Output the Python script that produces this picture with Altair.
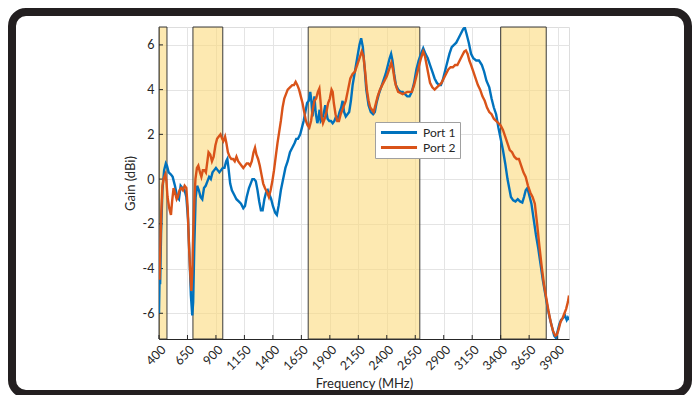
import altair as alt
import pandas as pd

# ---- data ----
port1_freq = [400, 405, 410, 418, 430, 445, 460, 470, 485, 505, 520, 540, 560, 575, 590, 605, 625, 640, 655, 668,
              680, 692, 700, 710, 722, 735, 750, 765, 780, 795, 810, 825, 840, 855, 870, 885, 900, 915, 930, 945,
              960, 975, 990, 1000, 1010, 1025, 1040, 1060, 1080, 1100, 1120, 1140, 1155, 1170, 1190, 1205, 1220,
              1235, 1250, 1265, 1280, 1295, 1310, 1325, 1340, 1355, 1370, 1385, 1400, 1420, 1435, 1450, 1470,
              1490, 1510, 1530, 1550, 1570, 1590, 1605, 1620, 1640, 1655, 1670, 1685, 1700, 1715, 1728, 1738,
              1748, 1758, 1765, 1775, 1790, 1800, 1810, 1820, 1832, 1845, 1860, 1870, 1880, 1895, 1910, 1925,
              1940, 1955, 1970, 1985, 2000, 2012, 2025, 2040, 2055, 2070, 2085, 2100, 2120, 2140, 2160, 2175,
              2190, 2205, 2220, 2240, 2260, 2280, 2295, 2310, 2330, 2350, 2370, 2390, 2410, 2425, 2438, 2450,
              2465, 2480, 2500, 2520, 2540, 2560, 2580, 2600, 2620, 2640, 2660, 2680, 2700, 2720, 2740, 2760,
              2780, 2800, 2820, 2840, 2860, 2875, 2890, 2910, 2930, 2950, 2970, 2990, 3010, 3030, 3050, 3070,
              3085, 3100, 3120, 3140, 3160, 3185, 3210, 3235, 3255, 3275, 3300, 3320, 3340, 3360, 3380, 3400,
              3420, 3440, 3460, 3475, 3490, 3510, 3530, 3550, 3570, 3590, 3605, 3620, 3635, 3650, 3670, 3690,
              3710, 3730, 3750, 3770, 3790, 3810, 3830, 3850, 3870, 3885, 3900, 3915, 3930, 3950, 3965, 3980,
              3990, 4000]
port1_gain = [-6.0, -4.5, -4.7, -2.5, -0.5, 0.4, 0.7, 0.6, 0.3, 0.2, 0.1, -0.3, -0.8, -0.9, -0.3, -0.4, -0.5, -0.8,
              -1.8, -3.5, -5.2, -6.1, -5.5, -3.0, -0.8, -0.3, -0.5, -0.8, -0.9, -0.4, -0.3, -0.1, 0.1, 0.0, 0.3,
              0.4, 0.5, 0.4, 0.3, 0.4, 0.5, 0.5, 0.8, 0.9, 0.5, -0.2, -0.5, -0.7, -0.9, -1.0, -1.1, -1.3, -1.2,
              -0.8, -0.4, -0.2, 0.0, 0.0, -0.1, -0.5, -1.0, -1.4, -1.4, -0.9, -0.6, -0.5, -0.7, -0.9, -1.2, -1.5,
              -1.6, -1.2, -0.5, 0.0, 0.5, 0.8, 1.2, 1.4, 1.6, 1.8, 1.8, 2.0, 2.3, 2.6, 3.0, 3.4, 3.5, 3.9, 3.5,
              2.8, 3.4, 3.7, 3.0, 2.5, 2.7, 3.1, 2.6, 2.7, 2.9, 3.3, 3.0, 2.7, 2.6, 2.6, 2.5, 2.6, 2.8, 2.7, 3.0,
              3.2, 3.5, 3.0, 2.8, 2.9, 3.0, 3.5, 4.2, 4.8, 5.4, 6.0, 6.3, 5.9, 5.0, 4.0, 3.3, 3.0, 2.9, 3.0, 3.4,
              3.8, 4.1, 4.4, 4.7, 5.1, 5.4, 5.6, 5.3, 4.7, 4.2, 4.0, 3.9, 3.9, 3.8, 3.7, 3.7, 3.9, 4.3, 4.9, 5.3,
              5.6, 5.85, 5.6, 5.4, 5.1, 4.8, 4.5, 4.3, 4.2, 4.2, 4.4, 4.8, 5.2, 5.6, 5.9, 6.0, 6.1, 6.3, 6.5, 6.7,
              6.78, 6.5, 6.1, 5.6, 5.4, 5.3, 5.3, 5.1, 4.8, 4.4, 4.1, 3.6, 3.2, 2.9, 2.3, 1.8, 1.3, 0.7, 0.0,
              -0.4, -0.8, -0.95, -1.0, -0.9, -1.0, -1.05, -0.8, -0.5, -0.4, -0.7, -1.1, -1.8, -2.5, -3.1, -3.8,
              -4.5, -5.1, -5.7, -6.2, -6.6, -7.0, -7.1, -6.8, -6.5, -6.3, -6.2, -6.1, -6.3, -6.2, -6.3]

port2_freq = [400, 405, 412, 420, 430, 440, 455, 465, 475, 490, 505, 515, 528, 540, 555, 565, 580, 595, 610, 625,
              640, 652, 662, 672, 684, 692, 700, 710, 720, 733, 745, 760, 772, 785, 800, 812, 825, 835, 850, 865,
              880, 895, 910, 925, 940, 955, 965, 980, 992, 1005, 1020, 1035, 1050, 1065, 1080, 1095, 1110, 1125,
              1140, 1155, 1170, 1185, 1200, 1215, 1230, 1243, 1255, 1270, 1285, 1300, 1315, 1330, 1350, 1365,
              1380, 1395, 1410, 1425, 1440, 1455, 1470, 1485, 1500, 1515, 1530, 1550, 1570, 1585, 1600, 1615,
              1630, 1645, 1660, 1675, 1690, 1705, 1720, 1735, 1750, 1765, 1780, 1795, 1808, 1818, 1828, 1840,
              1855, 1870, 1885, 1900, 1915, 1925, 1935, 1950, 1965, 1980, 1995, 2010, 2025, 2040, 2060, 2080,
              2100, 2120, 2140, 2160, 2180, 2195, 2210, 2225, 2240, 2255, 2270, 2285, 2300, 2320, 2340, 2360,
              2380, 2400, 2420, 2440, 2455, 2470, 2485, 2500, 2520, 2540, 2560, 2580, 2600, 2620, 2640, 2660,
              2680, 2700, 2720, 2735, 2750, 2765, 2780, 2800, 2820, 2840, 2860, 2880, 2900, 2920, 2940, 2960,
              2980, 3000, 3020, 3040, 3060, 3080, 3095, 3110, 3125, 3140, 3160, 3180, 3200, 3220, 3240, 3260,
              3280, 3300, 3320, 3340, 3360, 3380, 3400, 3420, 3440, 3460, 3480, 3500, 3520, 3540, 3560, 3580,
              3600, 3620, 3640, 3660, 3680, 3700, 3720, 3740, 3760, 3780, 3800, 3820, 3840, 3860, 3880, 3895,
              3910, 3925, 3945, 3960, 3975, 3990, 4000]
port2_gain = [-4.1, -4.5, -3.0, -1.5, -0.3, 0.0, 0.2, -0.1, -0.8, -1.3, -1.6, -1.0, -0.4, -0.6, -0.9, -0.8, -0.5,
              -0.4, -0.5, -0.3, -0.4, -1.3, -2.8, -4.0, -5.0, -4.2, -2.5, -1.0, 0.0, 0.5, 0.6, 0.3, 0.1, 0.4, 0.4,
              0.3, 0.8, 1.2, 1.1, 0.8, 1.0, 1.5, 1.8, 1.9, 2.0, 1.8, 1.7, 1.9, 1.6, 1.2, 1.0, 0.9, 0.9, 0.8, 1.0,
              0.8, 0.7, 0.6, 0.5, 0.6, 0.7, 0.7, 0.6, 0.8, 1.2, 1.4, 1.1, 0.9, 0.6, 0.2, -0.2, -0.4, -0.6, -0.8,
              -0.5, -0.1, 0.4, 1.0, 1.6, 2.1, 2.6, 3.2, 3.6, 3.8, 4.0, 4.1, 4.2, 4.2, 4.35, 4.2, 4.0, 3.7, 3.4,
              3.0, 2.6, 2.4, 2.3, 2.6, 3.1, 3.5, 3.6, 3.9, 4.05, 3.5, 2.8, 2.5, 2.7, 3.0, 3.4, 3.6, 4.0, 3.9, 3.4,
              2.9, 2.6, 2.6, 2.9, 3.1, 3.3, 3.5, 4.0, 4.5, 4.7, 4.8, 5.1, 5.4, 5.7, 5.5, 4.8, 4.0, 3.5, 3.2, 3.1,
              3.0, 3.3, 3.7, 4.0, 4.2, 4.4, 4.6, 4.9, 5.2, 4.9, 4.4, 4.1, 3.9, 3.85, 3.8, 3.85, 3.9, 3.9, 3.9,
              4.2, 4.6, 5.0, 5.4, 5.7, 5.5, 5.1, 4.7, 4.3, 4.1, 4.0, 4.1, 4.2, 4.3, 4.5, 4.7, 4.9, 5.0, 5.0, 5.1,
              5.1, 5.3, 5.5, 5.7, 5.75, 5.6, 5.3, 5.1, 4.8, 4.5, 4.2, 4.0, 3.7, 3.5, 3.2, 3.0, 2.9, 2.7, 2.6, 2.5,
              2.4, 2.2, 1.9, 1.6, 1.3, 1.2, 1.0, 0.9, 0.9, 0.6, 0.3, 0.1, -0.3, -0.6, -0.8, -1.1, -2.0, -3.0,
              -3.9, -4.7, -5.3, -5.9, -6.4, -6.8, -7.0, -6.95, -6.7, -6.4, -6.2, -6.0, -5.8, -5.5, -5.2]

series_names = ["Port 1", "Port 2"]
series_colors = ["#0072BD", "#D95319"]

band_start = [400, 698, 1710, 3400]
band_end = [470, 960, 2690, 3800]

x_ticks = [400, 650, 900, 1150, 1400, 1650, 1900, 2150, 2400, 2650, 2900, 3150, 3400, 3650, 3900]
y_ticks = [-6, -4, -2, 0, 2, 4, 6]

# ---- tables ----
lines = pd.concat([
    pd.DataFrame({"freq": port1_freq, "gain": port1_gain, "series": series_names[0], "ord": 0}),
    pd.DataFrame({"freq": port2_freq, "gain": port2_gain, "series": series_names[1], "ord": 1}),
], ignore_index=True)
bands = pd.DataFrame({"start": band_start, "end": band_end})
xt = pd.DataFrame({"t": x_ticks})
yt = pd.DataFrame({"t": y_ticks})

W, H = 410, 312
FONT = "Lato"
TXT = "#262626"

xscale = alt.Scale(domain=[400, 4000], nice=False, zero=False)
yscale = alt.Scale(domain=[-7.15, 6.8], nice=False, zero=False)

x_axis = alt.Axis(values=x_ticks, format="d", labelAngle=-45, title="Frequency (MHz)",
                  grid=True, gridColor="#e4e4e4", tickSize=0, domainColor=TXT, labelOverlap=False,
                  labelColor=TXT, titleColor=TXT, labelFontSize=12.5, titleFontSize=13,
                  titleFontWeight="normal", labelPadding=4, titlePadding=5, labelFont=FONT, titleFont=FONT)
y_axis = alt.Axis(values=y_ticks, labelExpr="'' + datum.value", title="Gain (dBi)",
                  grid=True, gridColor="#e4e4e4", tickSize=0, domainColor=TXT, labelOverlap=False,
                  labelColor=TXT, titleColor=TXT, labelFontSize=12.5, titleFontSize=13,
                  titleFontWeight="normal", labelPadding=5, titlePadding=5, labelFont=FONT, titleFont=FONT)

band_layer = alt.Chart(bands).mark_rect(
    fill="#FCDA7D", fillOpacity=0.6, stroke="#3a3a3a", strokeWidth=1, strokeOpacity=1
).encode(
    x=alt.X("start:Q", scale=xscale, axis=x_axis),
    x2="end:Q",
    y=alt.value(0),
    y2=alt.value(H),
)

ygrid_layer = alt.Chart(yt).mark_rule(opacity=0).encode(
    y=alt.Y("t:Q", scale=yscale, axis=y_axis),
)

xtick_layer = alt.Chart(xt).mark_rule(color=TXT, strokeWidth=1).encode(
    x=alt.X("t:Q", scale=xscale, axis=x_axis),
    y=alt.value(H),
    y2=alt.value(H - 4),
)
ytick_layer = alt.Chart(yt).mark_rule(color=TXT, strokeWidth=1).encode(
    y=alt.Y("t:Q", scale=yscale, axis=y_axis),
    x=alt.value(0),
    x2=alt.value(4),
)

line_layer = alt.Chart(lines).mark_line(strokeWidth=2.4, clip=True).encode(
    x=alt.X("freq:Q", scale=xscale, axis=x_axis),
    y=alt.Y("gain:Q", scale=yscale, axis=y_axis),
    color=alt.Color("series:N", scale=alt.Scale(domain=series_names, range=series_colors),
                    legend=alt.Legend(
                        title=None, orient="none", legendX=216, legendY=95,
                        fillColor="white", strokeColor="#a0a0a0", padding=4,
                        symbolType="stroke", symbolSize=1300, symbolStrokeWidth=3,
                        clipHeight=13, rowPadding=2,
                        labelFontSize=12, labelFont=FONT, labelColor=TXT,
                        labelOffset=4)),
    order=alt.Order("freq:Q"),
    detail="ord:N",
)

frame = alt.Chart(bands).mark_rect(
    fillOpacity=0, stroke="#231F20", strokeWidth=8, cornerRadius=14
).encode(
    x=alt.value(-147), x2=alt.value(529), y=alt.value(-15), y2=alt.value(367)
).transform_filter("datum.start == 400")

chart = alt.layer(
    band_layer, ygrid_layer, xtick_layer, ytick_layer, line_layer, frame
).properties(
    width=W, height=H,
    autosize=alt.AutoSizeParams(type="none"),
    padding={"left": 151, "top": 19, "right": 123, "bottom": 56},
).configure_view(stroke=None).configure(background="white")

chart.save("out.html", embed_options={"renderer": "svg", "actions": False})
